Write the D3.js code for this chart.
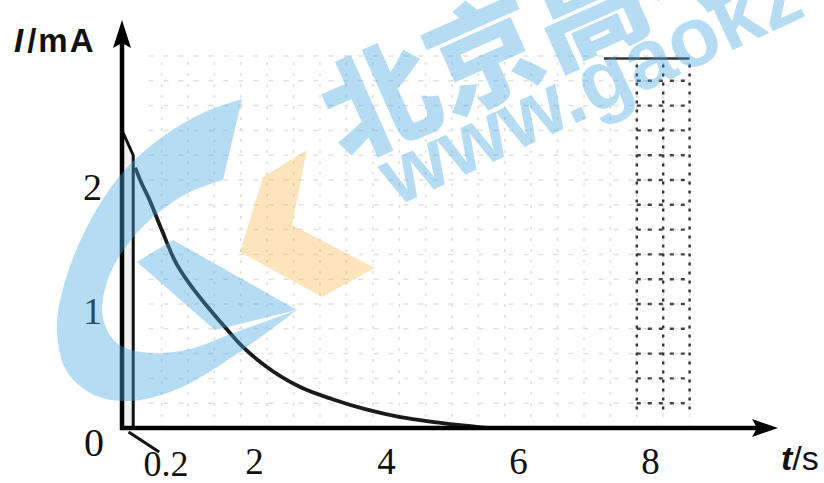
<!DOCTYPE html>
<html>
<head>
<meta charset="utf-8">
<script src="https://cdn.jsdelivr.net/npm/d3@7"></script>
<style>
  html, body { margin: 0; padding: 0; background: #fff; }
  svg { display: block; }
</style>
</head>
<body>
<div id="chart"></div>
<script>
// values
const tSec = [0.2, 0.3, 0.4, 0.6, 0.8, 1.0, 1.2, 1.5, 1.8, 2.2, 2.7, 3.2, 3.7, 4.2, 4.7, 5.2, 5.6, 6.0, 8.6];
const iMilliAmp = [2.1, 1.97, 1.86, 1.6, 1.35, 1.18, 1.04, 0.85, 0.67, 0.49, 0.33, 0.23, 0.15, 0.09, 0.05, 0.02, 0.0, 0.0, 0.0];
// first 0.2 s strip (trapezoid under the curve)
const stripT = [0, 0, 0.17, 0.17];
const stripI = [0, 2.4, 2.2, 0];
const xTicks = [2, 4, 6, 8];
const yTicks = [1, 2];
const gridT = [0.6, 1.0, 1.4, 1.8, 2.2, 2.6, 3.0, 3.4, 3.8, 4.2, 4.6, 5.0, 5.4, 5.8, 6.2, 6.6, 7.0, 7.4, 7.8, 8.2, 8.6];
const gridI = [0.2, 0.4, 0.6, 0.8, 1.0, 1.2, 1.4, 1.6, 1.8, 2.0, 2.2, 2.4, 2.6, 2.8, 3.0];
const darkGridT = [7.8, 8.2, 8.6];

const W = 824, H = 483;
const svg = d3.select("#chart").append("svg")
	.attr("width", W)
	.attr("height", H);

const x = d3.scaleLinear().domain([0, 8]).range([122, 650]);
const y = d3.scaleLinear().domain([0, 3]).range([428, 56]);

// faint scanned grid
const grid = svg.append("g");
grid.selectAll("line.v")
	.data(gridT)
	.join("line")
	.attr("x1", d => x(d)).attr("x2", d => x(d))
	.attr("y1", y(0)).attr("y2", y(3))
	.attr("stroke", "#dedede")
	.attr("stroke-width", 1.5)
	.attr("stroke-dasharray", "3,8");
grid.selectAll("line.h")
	.data(gridI)
	.join("line")
	.attr("x1", x(0.4)).attr("x2", x(8.6))
	.attr("y1", d => y(d)).attr("y2", d => y(d))
	.attr("stroke", "#e0e0e0")
	.attr("stroke-width", 1.5)
	.attr("stroke-dasharray", "5,10");
// the darker right part of the grid
const dg = svg.append("g");
dg.selectAll("line.dv")
	.data(darkGridT)
	.join("line")
	.attr("x1", d => x(d)).attr("x2", d => x(d))
	.attr("y1", y(0.15)).attr("y2", y(2.95))
	.attr("stroke", "#333")
	.attr("stroke-width", 2.4)
	.attr("stroke-dasharray", "3,6");
dg.selectAll("line.dh")
	.data(gridI.slice(0, 14))
	.join("line")
	.attr("x1", x(7.8)).attr("x2", x(8.6))
	.attr("y1", d => y(d)).attr("y2", d => y(d))
	.attr("stroke", "#444")
	.attr("stroke-width", 2.4)
	.attr("stroke-dasharray", "4,7");
dg.append("line")
	.attr("x1", x(7.3)).attr("x2", x(8.6))
	.attr("y1", y(2.98)).attr("y2", y(2.98))
	.attr("stroke", "#333")
	.attr("stroke-width", 2.5);

// strip for 0 - 0.2 s
const stripPts = stripT.map((t, k) => [x(t), y(stripI[k])]);
svg.append("path")
	.attr("d", d3.line()(stripPts) + "Z")
	.attr("fill", "#f2f2f2")
	.attr("stroke", "#111")
	.attr("stroke-width", 3);

// discharge curve
const pts = tSec.map((t, k) => [t, iMilliAmp[k]]);
svg.append("path")
	.datum(pts)
	.attr("d", d3.line().x(d => x(d[0])).y(d => y(d[1])).curve(d3.curveMonotoneX))
	.attr("fill", "none")
	.attr("stroke", "#1a1a1a")
	.attr("stroke-width", 3.8);

// axes
const xAxis = svg.append("g")
	.attr("transform", `translate(0, ${y(0)})`)
	.call(d3.axisBottom(x).tickValues(xTicks).tickSize(0).tickPadding(20).tickFormat(d3.format("d")));
xAxis.select(".domain").remove();
xAxis.selectAll("text")
	.attr("font-family", "'Liberation Serif', serif")
	.attr("font-size", 37)
	.attr("fill", "#111");

const yAxis = svg.append("g")
	.attr("transform", `translate(${x(0)}, 0)`)
	.call(d3.axisLeft(y).tickValues(yTicks).tickSize(0).tickPadding(20).tickFormat(d3.format("d")));
yAxis.select(".domain").remove();
yAxis.selectAll("text")
	.attr("dy", "0.5em")
	.attr("font-family", "'Liberation Serif', serif")
	.attr("font-size", 38)
	.attr("fill", "#111");

svg.append("line")
	.attr("x1", x(0) - 2).attr("x2", 760)
	.attr("y1", y(0)).attr("y2", y(0))
	.attr("stroke", "#000").attr("stroke-width", 4.5);
svg.append("path")
	.attr("d", `M778,${y(0)} L752,${y(0) - 9} L757,${y(0)} L752,${y(0) + 9} Z`)
	.attr("fill", "#000");
svg.append("line")
	.attr("x1", x(0)).attr("x2", x(0))
	.attr("y1", y(0) + 2).attr("y2", 40)
	.attr("stroke", "#000").attr("stroke-width", 4.5);
svg.append("path")
	.attr("d", `M${x(0)},20 L${x(0) - 9},48 L${x(0)},43 L${x(0) + 9},48 Z`)
	.attr("fill", "#000");

// origin, 0.2 label and its leader
svg.append("text")
	.attr("x", 94).attr("y", 456)
	.attr("text-anchor", "middle")
	.attr("font-family", "'Liberation Serif', serif")
	.attr("font-size", 40)
	.attr("fill", "#111")
	.text("0");
svg.append("line")
	.attr("x1", x(0.1)).attr("y1", y(0) + 4)
	.attr("x2", x(0.2) + 24).attr("y2", y(0) + 24)
	.attr("stroke", "#111").attr("stroke-width", 3);
svg.append("text")
	.attr("x", 166).attr("y", 476)
	.attr("text-anchor", "middle")
	.attr("font-family", "'Liberation Serif', serif")
	.attr("font-size", 36)
	.attr("fill", "#111")
	.text("0.2");

// axis titles
const yt = svg.append("text")
	.attr("x", 14).attr("y", 52)
	.attr("font-family", "'Liberation Sans', Arial, sans-serif")
	.attr("font-size", 33)
	.attr("font-weight", "bold")
	.attr("letter-spacing", 2)
	.attr("fill", "#111");
yt.append("tspan").attr("font-style", "italic").text("I");
yt.append("tspan").attr("dx", 2).text("/mA");

const xt = svg.append("text")
	.attr("x", 781).attr("y", 470)
	.attr("font-family", "'Liberation Sans', Arial, sans-serif")
	.attr("font-size", 34)
	.attr("fill", "#111");
xt.append("tspan").attr("font-style", "italic").attr("font-weight", "bold").text("t");
xt.append("tspan").text("/s");

// watermark overlay
const wm = svg.append("g").attr("opacity", 0.4);
const cOuterArc = [[242,99],[205,112],[165,135],[123,172],[88,225],[64,285],[57,330],[66,370],[92,394],[130,401],[175,390],[225,362],[297,310]];
const cInnerArc = [[225,336],[190,349],[150,353],[118,344],[103,318],[107,282],[125,248],[152,218],[188,193],[223,180]];
const cr = d3.line().curve(d3.curveCatmullRom.alpha(0.5));
wm.append("path")
	.attr("d", cr(cOuterArc) + "L" + cr(cInnerArc).slice(1) + "Z")
	.attr("fill", "#4aa8e0");
wm.append("path")
	.attr("d", d3.line().curve(d3.curveLinearClosed)([[297,310],[173,240],[137,262],[215,330]]))
	.attr("fill", "#4aa8e0");
wm.append("text")
	.attr("transform", "translate(345,162) rotate(-24)")
	.attr("font-family", "'Noto Sans CJK SC', sans-serif")
	.attr("font-weight", "900")
	.attr("font-size", 114)
	.attr("fill", "#4aa8e0")
	.text("北京高考");
wm.append("text")
	.attr("transform", "translate(396,207) rotate(-25)")
	.attr("font-family", "'Liberation Sans', Arial, sans-serif")
	.attr("font-weight", "bold")
	.attr("font-size", 84)
	.attr("fill", "#4aa8e0")
	.text("www.gaokz");
svg.append("path")
	.attr("d", d3.line().curve(d3.curveLinearClosed)([[307,150],[263,177],[240,252],[322,297],[375,268],[292,225]]))
	.attr("fill", "#f5b343")
	.attr("opacity", 0.35);
</script>
</body>
</html>
